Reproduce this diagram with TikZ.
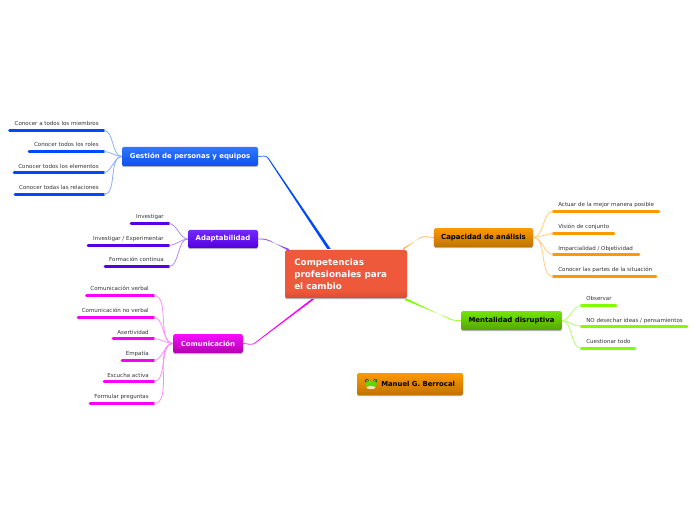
\documentclass[tikz,border=0pt]{standalone}
\usepackage{fontspec}
\setmainfont{DejaVu Sans}
\usetikzlibrary{shadows}
\definecolor{cblue}{HTML}{0048FF}
\definecolor{cblueT}{HTML}{2F78FF}
\definecolor{cblueB}{HTML}{0E4FEA}
\definecolor{cviolet}{HTML}{5500E6}
\definecolor{cvioletT}{HTML}{7228FF}
\definecolor{cvioletB}{HTML}{5500DC}
\definecolor{cmag}{HTML}{FA00FA}
\definecolor{corange}{HTML}{FF9900}
\definecolor{cgreen}{HTML}{80FF00}
\definecolor{centmain}{HTML}{EE583B}
\definecolor{centlow}{HTML}{D64E33}
\pgfdeclareverticalshading{centshade}{100bp}{color(0bp)=(centlow);color(25bp)=(centlow);color(33bp)=(centmain);color(75bp)=(centmain);color(100bp)=(centmain)}
\tikzset{
  box/.style={rounded corners=1.2pt,inner sep=0pt,align=center,font=\fontsize{5.2}{6.5}\selectfont\bfseries,
    drop shadow={shadow xshift=0pt,shadow yshift=-0.9pt,opacity=.3,fill=black}},
  leaf/.style={inner sep=0pt,font=\fontsize{4.15}{5}\selectfont,text=black!80},
  bar/.style={line width=1.9pt,line cap=round},
  branch/.style={line width=.6pt,out=0,in=180,looseness=.8},
  branchr/.style={line width=.6pt,out=180,in=0,looseness=.8},
}
\begin{document}
\begin{tikzpicture}[x=.75pt,y=-.75pt]
\useasboundingbox (0,0) rectangle (696,520);
\coordinate (jg) at (268,158);
\coordinate (ja) at (270,241);
\coordinate (jm) at (255,343);
\coordinate (jc) at (420,238);
\coordinate (jd) at (450,319);
\coordinate (eg) at (329,249);
\coordinate (ea) at (289,250);
\coordinate (em) at (313,299);
\coordinate (ec) at (403,249);
\coordinate (ed) at (405,299);
% central
\node[box,minimum width=91.5pt,minimum height=36pt,shading=centshade,text=white] (central) at (346,274) {};
\node[anchor=west,inner sep=0pt,align=left,text=white,font=\fontsize{6.6}{9}\selectfont\bfseries] (ctext) at (294,274) {Competencias\\profesionales para\\el cambio};
% second level
\node[box,minimum width=102pt,minimum height=14.25pt,top color=cblueT,bottom color=cblueB,text=white] (gest) at (190,156.5) {Gestión de personas y equipos};
\node[box,minimum width=52.5pt,minimum height=13.5pt,top color=cvioletT,bottom color=cvioletB,text=white] (adap) at (223,239) {Adaptabilidad};
\node[box,minimum width=52.5pt,minimum height=14pt,top color=cmag!95!white,bottom color=cmag!70!black,text=white] (comu) at (208,343.5) {Comunicación};
\node[box,minimum width=74.5pt,minimum height=14pt,top color=corange,bottom color=corange!75!black,text=black] (capa) at (483.5,237.5) {Capacidad de análisis};
\node[box,minimum width=75.5pt,minimum height=14pt,top color=cgreen!90!black,bottom color=cgreen!65!black,text=black] (ment) at (511.5,320.5) {Mentalidad disruptiva};
\node[box,minimum width=79.5pt,minimum height=16.5pt,top color=corange,bottom color=corange!75!black] (manu) at (410,384) {};
\node[anchor=west,inner sep=0pt,text=black,font=\fontsize{5.15}{6.5}\selectfont\bfseries] (mtext) at (381,384.3) {Manuel G. Berrocal};
% frog icon
\fill[green!50!black] (366.8,380.8) circle[radius=2] (375.2,380.8) circle[radius=2];
\fill[green!55!yellow!85!black] (371,384.3) ellipse[x radius=5.8,y radius=3.6];
\fill[white] (366.8,380.6) circle[radius=.9] (375.2,380.6) circle[radius=.9];
\fill[black] (366.8,380.6) circle[radius=.45] (375.2,380.6) circle[radius=.45];
\fill[orange!25!white] (371,387.6) ellipse[x radius=4.6,y radius=1.5];
% central connectors: thin curve next to the topic, tapered run to the centre
\draw[cblue!80!white,line width=.6pt] (gest.east) to[out=0,in=124] (jg);
\fill[cblue] (jg) ++(-.4,.2) -- ++(.8,-.4) -- ([xshift=1.3]eg) -- ([xshift=-1.3]eg) -- cycle;
\draw[cviolet!70!white,line width=.6pt] (adap.east) to[out=0,in=155] (ja);
\fill[cviolet!70!white] (ja) ++(0,-.4) -- ++(0,.8) -- ([yshift=.8]ea) -- ([yshift=-.8]ea) -- cycle;
\draw[cmag!80!white,line width=.6pt] (comu.east) to[out=0,in=218] (jm);
\fill[cmag] (jm) ++(-.2,-.3) -- ++(.4,.6) -- ([xshift=1.1]em) -- ([xshift=-1.1]em) -- cycle;
\draw[corange!70!white,line width=.6pt] (capa.west) to[out=180,in=33] (jc);
\fill[corange!70!white] (jc) ++(0,-.4) -- ++(0,.8) -- ([yshift=.8]ec) -- ([yshift=-.8]ec) -- cycle;
\draw[cgreen!75!white,line width=.6pt] (ment.west) to[out=180,in=-24] (jd);
\fill[cgreen] (jd) ++(0,-.4) -- ++(0,.8) -- ([yshift=.9]ed) -- ([yshift=-.9]ed) -- cycle;
% Gestión leaves
\foreach \n/\xa/\yb/\yt/\t in {g1/9.5/130.5/123.6/{Conocer a todos los miembros},g2/29/151.5/144.6/{Conocer todos los roles},g3/14/172.5/166.6/{Conocer todos los elementos},g4/15/194.5/187.6/{Conocer todas las relaciones}}{
  \node[leaf,anchor=east] (\n) at (99,\yt) {\t};
  \coordinate (\n a) at (\xa,\yb); \coordinate (\n b) at (104,\yb);
  \draw[bar,cblue] (\n a) -- (\n b);
  \draw[branch,cblue!45!white] (\n b) to (gest.west);
}
% Adaptabilidad leaves
\foreach \n/\xa/\yb/\yt/\t in {a1/131/223.5/216.6/{Investigar},a2/88/245.5/238.6/{Investigar / Experimentar},a3/105/266.5/259.6/{Formación continua}}{
  \node[leaf,anchor=east] (\n) at (164,\yt) {\t};
  \coordinate (\n a) at (\xa,\yb); \coordinate (\n b) at (169,\yb);
  \draw[bar,cviolet] (\n a) -- (\n b);
  \draw[branch,cviolet!45!white] (\n b) to (adap.west);
}
% Comunicación leaves
\foreach \n/\xa/\yb/\yt/\t in {m1/86.5/295.5/288.6/{Comunicación verbal},m2/78/317.5/310.6/{Comunicación no verbal},m3/113/338.5/332.6/{Asertividad},m4/122/360.5/353.6/{Empatía},m5/104/381.5/375.6/{Escucha activa},m6/90/403.5/396.6/{Formular preguntas}}{
  \node[leaf,anchor=east] (\n) at (149,\yt) {\t};
  \coordinate (\n a) at (\xa,\yb); \coordinate (\n b) at (154,\yb);
  \draw[bar,cmag] (\n a) -- (\n b);
  \draw[branch,cmag!45!white] (\n b) to (comu.west);
}
% Capacidad leaves
\foreach \n/\xa/\yb/\yt/\t in {c1/659/211.5/204.6/{Actuar de la mejor manera posible},c2/614/233.5/226.6/{Visión de conjunto},c3/639/254.5/248.6/{Imparcialidad / Objetividad},c4/656/276.5/269.6/{Conocer las partes de la situación}}{
  \node[leaf,anchor=west] (\n) at (558,\yt) {\t};
  \coordinate (\n a) at (553,\yb); \coordinate (\n b) at (\xa,\yb);
  \draw[bar,corange] (\n a) -- (\n b);
  \draw[branchr,corange!50!white] (\n a) to (capa.east);
}
% Mentalidad leaves
\foreach \n/\xa/\yb/\yt/\t in {d1/616/305.5/298.6/{Observar},d2/687/326.5/320.6/{NO desechar ideas / pensamientos},d3/635/348.5/341.6/{Cuestionar todo}}{
  \node[leaf,anchor=west] (\n) at (586,\yt) {\t};
  \coordinate (\n a) at (581,\yb); \coordinate (\n b) at (\xa,\yb);
  \draw[bar,cgreen] (\n a) -- (\n b);
  \draw[branchr,cgreen!60!white] (\n a) to (ment.east);
}
\end{tikzpicture}
\end{document}
